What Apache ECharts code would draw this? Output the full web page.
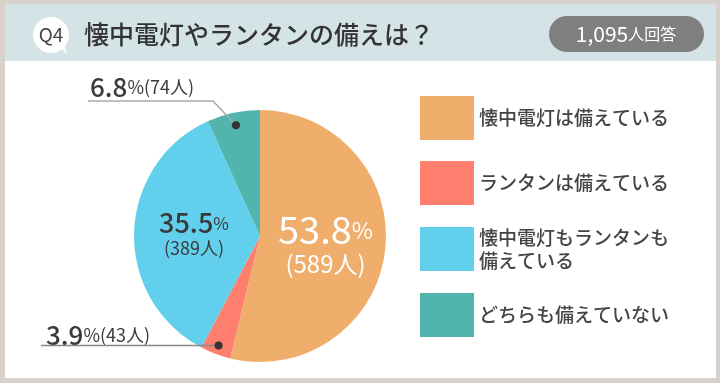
<!DOCTYPE html>
<html><head><meta charset="utf-8">
<script src="https://cdn.jsdelivr.net/npm/echarts@6/dist/echarts.min.js"></script>
<style>html,body{margin:0;padding:0;background:#d8d0cb;}#c{width:720px;height:383px;}</style>
</head><body><div id="c"></div>
<script>
const titleText = '懐中電灯やランタンの備えは？';
const qLabel = 'Q4';
const totalCount = '1,095';
const totalSuffix = '人回答';
const categories = ['懐中電灯は備えている', 'ランタンは備えている', '懐中電灯もランタンも備えている', 'どちらも備えていない'];
const percents = [53.8, 3.9, 35.5, 6.8];
const counts = [589, 43, 389, 74];
const colors = ['#efae6b', '#ff7f6f', '#62d0ec', '#52b5ad'];

const FONT = '"Noto Sans CJK JP", "Noto Sans", sans-serif';
const cx = 260, cy = 236, R = 126;

function midAngle(i) {
  let cum = 0;
  for (let k = 0; k < i; k++) cum += percents[k];
  const total = percents.reduce((a, b) => a + b, 0);
  return 2 * Math.PI * (cum + percents[i] / 2) / total;
}
function dotPos(i, k) {
  const a = midAngle(i);
  return [cx + k * R * Math.sin(a), cy - k * R * Math.cos(a)];
}
const tealDot = dotPos(3, 0.9);
const redDot = dotPos(1, 0.93);

function rs(size, color, lh, fw) {
  const o = { fontSize: size, color: color, fill: color, fontFamily: FONT, fontWeight: fw || 'normal' };
  if (lh) o.lineHeight = lh;
  return o;
}
const labelStyles = [
  { position: 'inside', formatter: p => '{big|' + p.value + '}{pct|%}\n{cnt|(' + counts[p.dataIndex] + '人)}',
    rich: { big: rs(38, '#fff', 40), pct: rs(23, '#fff'), cnt: rs(24, '#fff', 28) } },
  { position: 'outside', formatter: p => '{n|' + p.value + '}{p|%(' + counts[p.dataIndex] + '人)}',
    rich: { n: rs(26, '#3a3a3a', 0, 500), p: rs(18, '#3a3a3a') } },
  { position: 'inside', formatter: p => '{big|' + p.value + '}{pct|%}\n{cnt|(' + counts[p.dataIndex] + '人)}',
    rich: { big: rs(27, '#3a3a3a', 28, 500), pct: rs(17, '#3a3a3a'), cnt: rs(18, '#3a3a3a', 22) } },
  { position: 'outside', formatter: p => '{n|' + p.value + '}{p|%(' + counts[p.dataIndex] + '人)}',
    rich: { n: rs(26, '#3a3a3a', 0, 500), p: rs(18, '#3a3a3a') } }
];

const data = categories.map((name, i) => ({
  name, value: percents[i],
  itemStyle: { color: colors[i] },
  label: Object.assign({ show: true }, labelStyles[i]),
  labelLine: { show: false }
}));

const chart = echarts.init(document.getElementById('c'), null, { renderer: 'canvas' });
chart.setOption({
  animation: false,
  backgroundColor: '#d8d0cb',
  textStyle: { fontFamily: FONT },
  graphic: [
    { type: 'rect', z: -10, shape: { x: 5, y: 4, width: 711, height: 374 }, style: { fill: '#fff' } },
    { type: 'rect', z: -9, shape: { x: 5, y: 4, width: 711, height: 57 }, style: { fill: '#d4e3e6' } },
    { type: 'circle', shape: { cx: 51, cy: 35, r: 18 }, style: { fill: '#fff' } },
    { type: 'polygon', shape: { points: [[58, 45], [67, 54], [63, 42]] }, style: { fill: '#fff' } },
    { type: 'text', x: 51, y: 35, style: { text: qLabel, fontSize: 19, fill: '#444', fontFamily: FONT, align: 'center', verticalAlign: 'middle' } },
    { type: 'text', x: 84, y: 34, style: { text: titleText, fontSize: 25, fill: '#333', fontFamily: FONT, fontWeight: 500, verticalAlign: 'middle' } },
    { type: 'rect', shape: { x: 549, y: 16, width: 155, height: 36, r: 18 }, style: { fill: '#7f7f7f' } },
    { type: 'text', x: 626, y: 34, style: { text: '{a|' + totalCount + '}{b|' + totalSuffix + '}', align: 'center', verticalAlign: 'middle',
        rich: { a: rs(21, '#fff'), b: rs(16, '#fff') } } },
    { type: 'polyline', z: 20, shape: { points: [tealDot, [213, 101], [88, 101]] }, style: { stroke: '#aaa', lineWidth: 1.5, fill: null } },
    { type: 'circle', z: 21, shape: { cx: tealDot[0], cy: tealDot[1], r: 4 }, style: { fill: '#333' } },
    { type: 'polyline', z: 20, shape: { points: [redDot, [41, redDot[1]]] }, style: { stroke: '#888', lineWidth: 1.5, fill: null } },
    { type: 'circle', z: 21, shape: { cx: redDot[0], cy: redDot[1], r: 4 }, style: { fill: '#333' } }
  ],
  legend: {
    orient: 'vertical', left: 420, top: 96, padding: 0,
    itemWidth: 54, itemHeight: 44, itemGap: 21,
    icon: 'rect', selectedMode: false,
    data: categories,
    formatter: name => name === categories[2] ? '懐中電灯もランタンも\n備えている' : name,
    textStyle: { fontSize: 19, color: '#444', fontFamily: FONT, fontWeight: 500, lineHeight: 23 }
  },
  series: [{
    type: 'pie', center: [cx, cy], radius: R, startAngle: 90, clockwise: true,
    silent: true, emphasis: { disabled: true },
    itemStyle: { borderWidth: 0 },
    data,
    labelLayout: params => {
      if (params.dataIndex === 3) return { x: 90, y: 87, align: 'left', verticalAlign: 'middle' };
      if (params.dataIndex === 1) return { x: 46, y: 335, align: 'left', verticalAlign: 'middle' };
      return {};
    }
  }]
});
</script></body></html>
